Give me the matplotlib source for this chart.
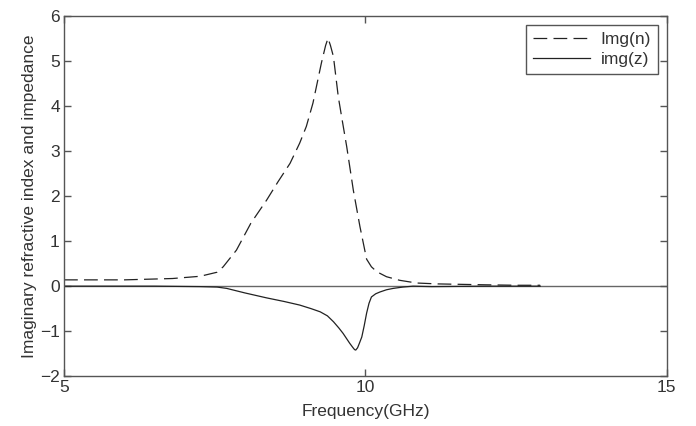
import matplotlib
matplotlib.use("Agg")
from matplotlib import pyplot as plt
import numpy as np

plt.rcParams['font.family'] = ['Liberation Sans', 'DejaVu Sans']

# values
freq_n = [5.0, 6.0, 6.8, 7.26, 7.54, 7.64, 7.86, 8.1, 8.36, 8.55, 8.75, 8.91,
          9.02, 9.13, 9.27, 9.34, 9.38, 9.42, 9.47, 9.55, 9.62, 9.69, 9.8,
          9.91, 10.02, 10.1, 10.19, 10.35, 10.57, 10.85, 11.2, 11.6, 12.0,
          12.5, 12.9]
img_n = [0.14, 0.14, 0.17, 0.22, 0.31, 0.43, 0.8, 1.4, 1.91, 2.32, 2.73,
         3.18, 3.55, 4.07, 4.96, 5.35, 5.51, 5.35, 5.1, 4.21, 3.65, 3.1,
         2.13, 1.32, 0.6, 0.43, 0.32, 0.21, 0.13, 0.07, 0.05, 0.04, 0.03,
         0.02, 0.02]

freq_z = [5.0, 6.5, 7.26, 7.54, 7.7, 8.0, 8.36, 8.65, 8.91, 9.1, 9.25,
          9.37, 9.47, 9.56, 9.63, 9.69, 9.74, 9.79, 9.82, 9.84, 9.87, 9.9,
          9.94, 9.98, 10.02, 10.06, 10.1, 10.17, 10.24, 10.35, 10.46,
          10.62, 10.79, 11.1, 12.0, 12.9]
img_z = [0.0, 0.0, -0.01, -0.02, -0.05, -0.15, -0.26, -0.34, -0.42, -0.5,
         -0.57, -0.66, -0.79, -0.93, -1.05, -1.17, -1.27, -1.36, -1.41,
         -1.42, -1.37, -1.27, -1.13, -0.88, -0.6, -0.38, -0.24, -0.17,
         -0.13, -0.08, -0.05, -0.02, 0.0, -0.01, 0.0, 0.0]

fig = plt.figure(figsize=(6.96, 4.26), dpi=100)
ax = fig.add_axes([0.092, 0.117, 0.866, 0.845])

grey = '#555555'
txt = '#333333'
ax.axhline(0, color='#666666', linewidth=1.0, zorder=1)
ax.plot(freq_n, img_n, color='#222222', linewidth=0.9, dashes=(11, 5), label='Img(n)')
ax.plot(freq_z, img_z, color='#222222', linewidth=0.9, label='img(z)')

ax.set_xlim(5, 15)
ax.set_ylim(-2, 6)
ax.set_xticks([5, 10, 15])
ax.set_yticks(np.arange(-2, 7, 1))
ax.tick_params(direction='in', top=True, right=True, length=5, width=1.0,
               color=grey, labelcolor=txt, labelsize=12.5, pad=3)
for s in ax.spines.values():
    s.set_color(grey)
    s.set_linewidth(1.0)

ax.set_xlabel('Frequency(GHz)', fontsize=12.5, color=txt, labelpad=6)
ax.set_ylabel('Imaginary refractive index and impedance', fontsize=12.5,
              color=txt, labelpad=2)

leg = ax.legend(loc='upper right', fontsize=12.5, fancybox=False, framealpha=1,
                edgecolor=grey, borderaxespad=0.5, handlelength=3.3,
                borderpad=0.4, labelspacing=0.3, handletextpad=0.6)
leg.get_frame().set_linewidth(1.0)
for t in leg.get_texts():
    t.set_color(txt)

fig.savefig('out.png', dpi=100)
